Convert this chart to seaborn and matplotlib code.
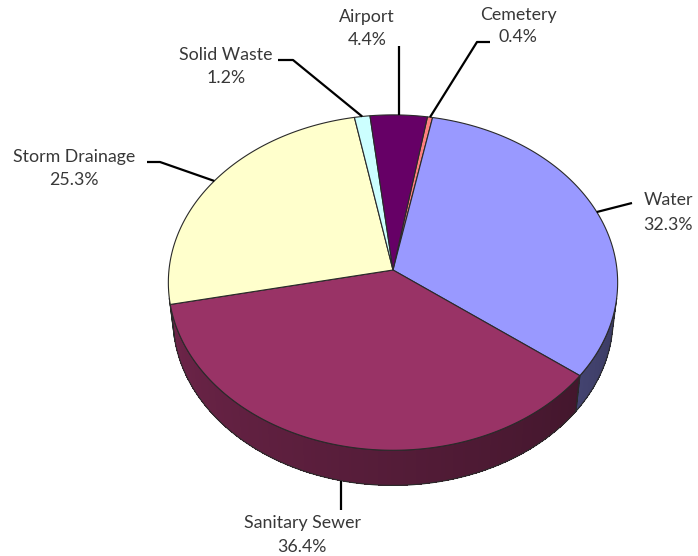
import numpy as np
import matplotlib
matplotlib.use("Agg")
import matplotlib.pyplot as plt
import seaborn as sns

# Share of the budget by utility service (percent), clockwise from the back
categories = ["Cemetery", "Water", "Sanitary Sewer", "Storm Drainage", "Solid Waste", "Airport"]
shares = [0.4, 32.3, 36.4, 25.3, 1.2, 4.4]
share_labels = ["0.4%", "32.3%", "36.4%", "25.3%", "1.2%", "4.4%"]
top_colors = ["#FF8080", "#9999FF", "#993366", "#FFFFCC", "#CCFFFF", "#660066"]

sns.set_theme(style="white")
plt.rcParams["font.family"] = ["Lato", "DejaVu Sans"]

# ---- perspective view of a flat disc (3-D pie) ----
ELEV = np.radians(48.1)   # camera elevation
DIST = 8.91               # camera distance in disc radii
FOCAL = 1996.0            # focal length in pixels
CX, CY = 393.0, 270.0     # screen position of the disc centre
THICK = 0.247             # disc thickness in radii
START = 9.5               # first slice edge, degrees clockwise from the back


def project(phi_deg, r=1.0, w=0.0):
    phi = np.radians(phi_deg)
    u = r * np.sin(phi)
    v = -r * np.cos(phi)
    yup = -v * np.sin(ELEV) + w * np.cos(ELEV)
    d = DIST - v * np.cos(ELEV) - w * np.sin(ELEV)
    return CX + FOCAL * u / d, CY - FOCAL * yup / d


def shade(color, k):
    rgb = np.array(matplotlib.colors.to_rgb(color))
    return tuple(np.clip(rgb * k, 0, 1))


fig = plt.figure(figsize=(6.98, 5.56), dpi=100)
ax = fig.add_axes([0, 0, 1, 1])
ax.set_xlim(0, 698)
ax.set_ylim(556, 0)
ax.axis("off")

fracs = np.array(shares) / np.sum(shares)
edges = START + 360.0 * np.concatenate([[0], np.cumsum(fracs)])
mids = (edges[:-1] + edges[1:]) / 2

# range of the outer wall that faces the camera
vis_lo = np.degrees(np.arccos(-1.0 / (DIST * np.cos(ELEV))))
vis_hi = 360.0 - vis_lo

EDGE = "#2a2a2a"

# outer walls
for a0, a1, col in zip(edges[:-1], edges[1:], top_colors):
    lo, hi = max(a0, vis_lo), min(a1, vis_hi)
    if hi <= lo:
        continue
    phis = np.linspace(lo, hi, max(4, int((hi - lo) * 2)))
    # shaded strips, lit from the left; slightly widened so no seams show
    for p0, p1 in zip(phis[:-1], phis[1:]):
        pm = 0.5 * (p0 + p1)
        k = 0.38 + 0.34 * (pm - 100.0) / 160.0
        c = shade(col, k)
        q0, q1 = p0 - 0.3, p1 + 0.3
        q0, q1 = max(q0, lo), min(q1, hi)
        xt0, yt0 = project(q0)
        xt1, yt1 = project(q1)
        xb1, yb1 = project(q1, w=-THICK)
        xb0, yb0 = project(q0, w=-THICK)
        ax.fill([xt0, xt1, xb1, xb0], [yt0, yt1, yb1, yb0], color=c,
                lw=0, antialiased=False, zorder=1)
    xt, yt = project(phis)
    xb, yb = project(phis[::-1], w=-THICK)
    ax.fill(np.concatenate([xt, xb]), np.concatenate([yt, yb]), fill=False,
            ec=EDGE, lw=0.8, zorder=2)

# top faces
for a0, a1, col in zip(edges[:-1], edges[1:], top_colors):
    phis = np.linspace(a0, a1, max(3, int((a1 - a0) * 2)))
    xs, ys = project(phis)
    ax.fill(np.concatenate([[CX], xs]), np.concatenate([[CY], ys]),
            fc=col, ec=EDGE, lw=0.8, zorder=3)

# labels with leader lines
TXT = "#383838"
FS = 12.8
label_pos = {
    "Cemetery": (518, 15, 37),
    "Water": (668, 200, 225),
    "Sanitary Sewer": (302, 523, 547),
    "Storm Drainage": (74, 157, 180),
    "Solid Waste": (226, 55, 78),
    "Airport": (367, 17, 40),
}
for name, lab, m in zip(categories, share_labels, mids):
    tx, y1, y2 = label_pos[name]
    ax.text(tx, y1, name, ha="center", va="center", fontsize=FS, color=TXT, zorder=5)
    ax.text(tx, y2, lab, ha="center", va="center", fontsize=FS, color=TXT, zorder=5)

    if name == "Sanitary Sewer":
        axp, ayp = project(m, w=-THICK)
        path = [(axp, 510), (axp, ayp)]
    else:
        axp, ayp = project(m)
        if name == "Airport":
            path = [(axp, 46), (axp, ayp)]
        elif name == "Solid Waste":
            path = [(278, 60), (293, 60), (axp, ayp)]
        elif name == "Cemetery":
            path = [(490, 42), (477, 42), (axp, ayp)]
        elif name == "Storm Drainage":
            path = [(147, 162), (160, 162), (axp, ayp)]
        else:  # Water
            path = [(632, 203), (axp, ayp)]
    px, py = zip(*path)
    ax.plot(px, py, color="black", lw=1.6, solid_capstyle="butt", zorder=4)

fig.savefig("out.png", dpi=100, facecolor="white")
